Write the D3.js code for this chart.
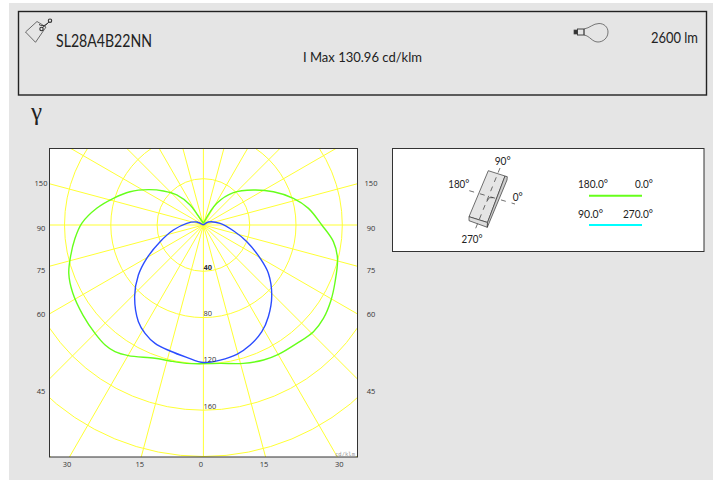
<!DOCTYPE html>
<html>
<head>
<meta charset="utf-8">
<script src="https://cdn.jsdelivr.net/npm/d3@7"></script>
<style>
  html, body { margin: 0; padding: 0; background: #fff; }
  text { font-family: "Lato", "Open Sans", sans-serif; fill: #222; }
  text.small { font-family: "Open Sans", sans-serif; fill: #333; }
</style>
</head>
<body>
<div id="chart"></div>
<script>
// Photometric curves: gamma (deg, negative = left half) and intensity (cd/klm)
const c0Gamma = [-180, -150, -146.4, -138.4, -130.4, -122.7, -114.4, -106.5, -98.9, -90.8, -84.1, -76.6, -70.2, -62.6, -53.1, -45, -39.3, -34.9, -29.9, -20, -13.8, -6.8, 0, 6.9, 16.1, 24, 30.1, 38.3, 45.9, 52.1, 59.4, 66.1, 76, 82.7, 90, 99, 106.5, 115.4, 125, 137.1, 148.3, 180];
const c0Values = [1.5, 10, 20.7, 34.7, 45.4, 56.5, 69.6, 81.1, 93.3, 105.1, 111.5, 118, 123.6, 127.2, 130, 132.4, 134, 133.5, 130.2, 122.5, 121, 120.4, 119.8, 120.4, 124.4, 127.7, 129.2, 130.3, 132.4, 131.4, 128, 124.2, 119.4, 113.2, 102.3, 91.9, 81.1, 67, 52.7, 38.1, 22, 1.5];
const c90Gamma = [-180, -114, -95.8, -80.5, -68.9, -59.5, -52.4, -44, -33.9, -28.3, -22.2, -14.8, -7.2, 0, 7.1, 14.5, 21.3, 28.7, 35.3, 44, 53.4, 59.6, 69, 79.2, 95.8, 121, 180];
const c90Values = [0, 6.3, 14.4, 26.3, 40.1, 56.8, 70.9, 85.5, 100.7, 106.3, 110.5, 112.6, 115.2, 118.8, 117.6, 115.4, 111.3, 105.1, 97.1, 85, 69.9, 56.9, 40.2, 26.4, 14.5, 5, 0];

const ringValues = [40, 80, 120, 160, 200, 240];
const rayAngles = [15, 30, 45, 60, 75, 90, 105, 120, 135, 150, 165];
const ringLabels = [40, 80, 120, 160];
const sideLabels = ["150", "90", "75", "60", "45"];
const sideLabelGamma = [105, 90, 75, 60, 45];
const sideLabelNudge = [2, 6, 7, 3, 15];
const bottomLabels = ["30", "15", "0", "15", "30"];
const bottomLabelGamma = [-30, -15, 0, 15, 30];
const bottomLabelNudge = [-2.5, -1.5, -2.5, -1.5, 2];

const width = 718, height = 480;
const plot = { left: 49.5, top: 148.5, right: 357.5, bottom: 457 };
const cx = 203.4, cy = 225;
const gridColor = "#ffff33", c0Color = "#66ff1a", c90Color = "#2b4cff", c90LegendColor = "#00ffff";

const svg = d3.select("#chart").append("svg")
  .attr("width", width)
  .attr("height", height)
  .style("display", "block");

svg.append("rect").attr("x", 9).attr("y", 3).attr("width", 704).attr("height", 477).attr("fill", "#e5e5e5");

// Header box
svg.append("rect").attr("x", 18.5).attr("y", 11.5).attr("width", 688).attr("height", 83.5)
  .attr("fill", "none").attr("stroke", "#222").attr("stroke-width", 1.4);

const rScale = d3.scaleLinear().domain([0, 200]).range([0, 231.5]);
const aScale = d3.scaleLinear().domain([0, 180]).range([Math.PI, 0]);

// Plot area
svg.append("clipPath").attr("id", "plot-clip").append("rect")
  .attr("x", plot.left).attr("y", plot.top)
  .attr("width", plot.right - plot.left).attr("height", plot.bottom - plot.top);

svg.append("rect")
  .attr("x", plot.left).attr("y", plot.top)
  .attr("width", plot.right - plot.left).attr("height", plot.bottom - plot.top)
  .attr("fill", "#fff");

const grid = svg.append("g").attr("clip-path", "url(#plot-clip)")
  .append("g").attr("transform", `translate(${cx},${cy})`);

grid.selectAll(".ring").data(ringValues).enter().append("circle")
  .attr("r", (d) => rScale(d))
  .attr("fill", "none").attr("stroke", gridColor).attr("stroke-width", 1);

// rays both sides plus the vertical
const rayList = [0].concat(rayAngles, rayAngles.map((d) => -d), [180]);
grid.selectAll(".ray").data(rayList).enter().append("line")
  .attr("x1", 0).attr("y1", 0)
  .attr("x2", (d) => rScale(400) * Math.sin(aScale(d)))
  .attr("y2", (d) => -rScale(400) * Math.cos(aScale(d)))
  .attr("stroke", gridColor).attr("stroke-width", 1);

const line = d3.lineRadial().curve(d3.curveCatmullRom.alpha(0.5));

function curvePoints(gammas, values) {
  return gammas.map((g, i) => [aScale(g), rScale(values[i])]);
}

grid.append("path").attr("d", line(curvePoints(c0Gamma, c0Values)))
  .attr("fill", "none").attr("stroke", c0Color).attr("stroke-width", 1.4);
grid.append("path").attr("d", line(curvePoints(c90Gamma, c90Values)))
  .attr("fill", "none").attr("stroke", c90Color).attr("stroke-width", 1.4);

svg.append("rect")
  .attr("x", plot.left).attr("y", plot.top)
  .attr("width", plot.right - plot.left).attr("height", plot.bottom - plot.top)
  .attr("fill", "none").attr("stroke", "#333").attr("stroke-width", 1);

// Ring labels
svg.selectAll(".ring-label").data(ringLabels).enter().append("text")
  .attr("class", "small")
  .attr("x", cx).attr("y", (d) => cy + rScale(d) - 1.5)
  .attr("font-size", 7.5).attr("font-weight", (d) => d === 40 ? 700 : 400)
  .text((d) => d);

// Side labels sit near where the gamma ray meets the frame
const halfW = plot.right - cx;
sideLabels.forEach((t, i) => {
  const rad = sideLabelGamma[i] * Math.PI / 180;
  const y = cy + halfW / Math.tan(rad) + sideLabelNudge[i];
  [41, 371].forEach((x) => {
    svg.append("text").attr("class", "small").attr("x", x).attr("y", y)
      .attr("text-anchor", "middle").attr("font-size", 7.5).text(t);
  });
});

// Bottom labels, same idea against the bottom edge
const halfH = plot.bottom - cy;
bottomLabels.forEach((t, i) => {
  const rad = bottomLabelGamma[i] * Math.PI / 180;
  svg.append("text").attr("class", "small")
    .attr("x", cx + halfH * Math.tan(rad) + bottomLabelNudge[i]).attr("y", 467)
    .attr("text-anchor", "middle").attr("font-size", 7.5).text(t);
});

svg.append("text").attr("x", 335).attr("y", 456).style("font-family", "'DejaVu Sans Mono'")
  .style("fill", "#999").attr("font-size", 5.5).attr("textLength", 20).text("cd/klm");

// Header text
function fitted(x, y, size, w, t, anchor) {
  return svg.append("text").attr("x", x).attr("y", y).attr("font-size", size)
    .attr("text-anchor", anchor || "start")
    .attr("textLength", w).attr("lengthAdjust", "spacingAndGlyphs").text(t);
}
fitted(56, 47.3, 17.5, 96, "SL28A4B22NN");
fitted(303, 61.7, 14, 119, "I Max 130.96 cd/klm");
fitted(651, 42.5, 14.5, 47, "2600 lm");
svg.append("text").attr("x", 31).attr("y", 120).attr("font-size", 25).style("font-family", "'Liberation Serif'").text("γ");

// Tag icon
const tag = svg.append("g").attr("fill", "none").attr("stroke", "#333").attr("stroke-width", 0.7);
tag.append("path").attr("d", "M25.5,32 L37,21.5 L46,27 L35.5,42.3 Z");
tag.append("circle").attr("cx", 41.5).attr("cy", 29).attr("r", 1.7).attr("stroke-width", 1.1);
tag.append("circle").attr("cx", 50).attr("cy", 20.7).attr("r", 1.7).attr("stroke-width", 1.1);
tag.append("path").attr("d", "M42,28 L49,22 M39,24.5 C43,27 46,25 48,23").attr("stroke-width", 1);

// Lamp icon
const lamp = svg.append("g").attr("fill", "none").attr("stroke", "#444").attr("stroke-width", 0.7);
lamp.append("path").attr("d", "M584,29 C590,28 593,23.5 599,23.5 C604,23.5 608,27 608,32 C608,38 603,42 598,42 C592,42 590,36 584,35 Z");
lamp.append("rect").attr("x", 577.5).attr("y", 29).attr("width", 6.5).attr("height", 6).attr("stroke-width", 1);
lamp.append("rect").attr("x", 574).attr("y", 30).attr("width", 3.5).attr("height", 4).attr("fill", "#333");

// Info box
svg.append("rect").attr("x", 392.5).attr("y", 148.5).attr("width", 311.5).attr("height", 103)
  .attr("fill", "#fff").attr("stroke", "#333").attr("stroke-width", 1);

const block = svg.append("g").attr("fill", "#e5e5e5").attr("stroke", "#333").attr("stroke-width", 0.7);
block.append("path").attr("d", "M488.3,170.7 L505,176 L487.5,222.5 L469,216.7 Z");
block.append("path").attr("d", "M469,216.7 L487.5,222.5 L487.3,227.3 L469,220.7 Z").attr("fill", "#ddd");
block.append("path").attr("d", "M505,176 L507.3,176.7 L507,180 L487.3,227.3 L487.5,222.5 Z").attr("fill", "#ccc");

const dashes = svg.append("g").attr("stroke", "#333").attr("stroke-width", 0.7).attr("fill", "none");
dashes.append("path").attr("d", "M500,168 L475,230").attr("stroke-dasharray", "5 5");
dashes.append("path").attr("d", "M469.3,190.7 L515,204").attr("stroke-dasharray", "5 6");
dashes.append("path").attr("d", "M486.7,201.7 L489.3,197.7 L493.3,197.7");

fitted(502.7, 165, 12, 16, "90°", "middle");
fitted(458.8, 187.7, 12, 21, "180°", "middle");
fitted(517.7, 201, 12, 10, "0°", "middle");
fitted(472, 242.7, 12, 21, "270°", "middle");

// Legend
fitted(578, 188, 12, 30, "180.0°");
fitted(635, 188, 12, 18, "0.0°");
fitted(578, 218, 12, 25, "90.0°");
fitted(623, 218, 12, 30, "270.0°");
const legendX = d3.scaleLinear().domain([0, 1]).range([589, 642]);
[[195.7, c0Color], [225, c90LegendColor]].forEach((d) => {
  svg.append("line").attr("x1", legendX(0)).attr("x2", legendX(1)).attr("y1", d[0]).attr("y2", d[0])
    .attr("stroke", d[1]).attr("stroke-width", 2);
});
</script>
</body>
</html>
